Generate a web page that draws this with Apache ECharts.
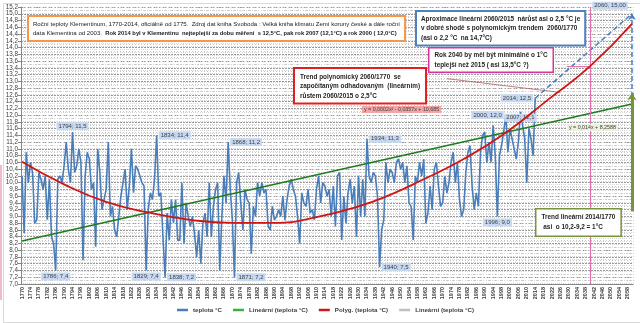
<!DOCTYPE html>
<html><head><meta charset="utf-8">
<script src="https://cdn.jsdelivr.net/npm/echarts@6/dist/echarts.min.js"></script>
<style>html,body{margin:0;padding:0;background:#fff}#c{width:640px;height:323px}</style>
</head><body><div id="c"></div>
<script>
// Annual mean temperature, Klementinum (Prague), 1770-2014, with trend lines to 2060
const firstYear = 1770;
const lastYear = 2060;
const years = [];
for (let y = firstYear; y <= lastYear; y++) years.push(String(y));

// teplota °C, one value per year 1770..2014
const temps = [
  10.2, 8.5, 10.9, 10.0, 10.6, 10.3, 8.8, 8.9, 10.3, 10.1,   // 1770s
  9.8, 10.2, 8.9, 10.1, 8.4, 8.2, 7.4, 10.1, 10.2, 10.0,     // 1780s
  10.5, 11.2, 10.4, 10.0, 11.5, 10.3, 10.5, 11.0, 10.6, 7.7, // 1790s
  10.2, 10.9, 10.7, 9.8, 10.0, 8.1, 11.0, 10.3, 9.2, 9.5,    // 1800s
  9.8, 11.2, 9.0, 9.3, 8.6, 8.4, 9.0, 9.6, 10.0, 10.4,       // 1810s
  9.2, 9.9, 11.0, 9.7, 10.5, 10.4, 10.2, 10.0, 9.9, 7.4,     // 1820s
  9.2, 9.7, 9.5, 10.1, 11.4, 9.6, 9.7, 8.4, 7.2, 9.1,        // 1830s
  8.3, 9.5, 8.8, 9.5, 8.3, 8.3, 10.0, 8.2, 9.4, 9.0,         // 1840s
  8.7, 9.0, 8.5, 7.8, 8.6, 7.6, 8.8, 9.1, 8.4, 10.0,         // 1850s
  8.4, 9.3, 9.8, 10.0, 7.4, 9.0, 10.2, 9.4, 11.2, 9.8,       // 1860s
  8.9, 7.2, 10.0, 10.3, 9.4, 8.6, 9.8, 9.5, 9.4, 7.9,        // 1870s
  9.3, 9.0, 10.0, 9.6, 10.0, 9.7, 9.8, 8.7, 8.6, 9.3,        // 1880s
  8.9, 9.0, 9.2, 9.0, 9.6, 8.9, 9.5, 9.9, 10.1, 9.8,         // 1890s
  9.6, 9.0, 8.2, 9.7, 9.4, 9.3, 9.8, 9.1, 9.2, 8.9,          // 1900s
  9.8, 10.2, 9.4, 10.0, 9.9, 9.6, 9.8, 9.0, 9.9, 8.7,        // 1910s
  10.2, 10.3, 8.3, 9.6, 8.8, 9.7, 10.1, 9.4, 9.9, 8.4,       // 1920s
  10.2, 9.0, 10.1, 9.0, 11.3, 10.2, 10.0, 10.3, 10.2, 9.6,   // 1930s
  7.5, 8.6, 8.9, 10.6, 10.0, 10.4, 10.3, 10.0, 10.6, 10.7,   // 1940s
  10.4, 10.6, 10.0, 10.5, 9.4, 9.3, 8.3, 10.2, 10.0, 10.6,   // 1950s
  10.2, 10.7, 8.8, 9.1, 9.9, 9.2, 10.4, 10.6, 9.9, 9.3,      // 1960s
  9.4, 10.2, 9.7, 10.0, 10.6, 10.9, 10.0, 10.6, 9.5, 9.0,    // 1970s
  9.2, 10.3, 10.9, 11.1, 9.9, 9.2, 9.7, 9.3, 10.9, 11.4,     // 1980s
  11.5, 10.6, 11.2, 10.6, 11.7, 10.8, 9.0, 10.8, 11.1, 11.5, // 1990s
  12.0, 10.9, 11.6, 11.3, 11.0, 10.7, 11.2, 12.1, 11.7, 11.3, // 2000s
  10.0, 11.6, 11.3, 10.8, 12.5                               // 2010-2014
];

// Lineární (teplota °C): straight trend, end points
const linearTrend = [['1770', 8.27], ['2060', 12.33]];
// Polyg. (teplota °C): polynomial trend, sampled points
const polyTrend = [
  ['1770', 10.62], ['1790', 9.95], ['1810', 9.43], ['1830', 9.12], ['1850', 8.9],
  ['1870', 8.81], ['1890', 8.81], ['1910', 8.98], ['1930', 9.3], ['1945', 9.64],
  ['1960', 10.07], ['1980', 10.7], ['2000', 11.48], ['2020', 12.45], ['2040', 13.44], ['2060', 14.7]
];
// linear extrapolation 2015 -> 2060
const forecast = [['2014', 12.5], ['2060', 15.0]];
// thin reference line
const greyLine = [['1972', 13.08], ['2026', 12.67]];
// expected 2040 value
const point2040 = ['2040', 13.44];
// rise of the linear trend, shown as an arrow at the right edge
const riseArrow = [['2060', 9.15], ['2060', 12.65]];

// years whose values are written next to the curve, with separator used
const labeledYears = [1786, 1794, 1829, 1834, 1838, 1868, 1871, 1934, 1940, 1996, 2000, 2007, 2014];
const labelSep = { 2000: ', ' };
const labelPlace = {
  1786: 'bottom', 1794: 'top', 1829: 'bottom', 1834: 'right', 1838: 'right', 1868: 'right',
  1871: 'right', 1934: 'right', 1940: 'right', 1996: 'bottom', 2000: 'left', 2007: 'bottom', 2014: 'left'
};

const fmt = (v, d = 1) => v.toFixed(d).replace('.', ',');
const tempOf = y => temps[y - firstYear];

const labelBox = {
  backgroundColor: '#c6d9f1', color: '#404040', fontSize: 6, padding: [1, 2],
  fontFamily: 'Liberation Sans'
};

const legendNames = {
  s1: 'teplota °C', s2: 'Lineární (teplota °C)', s3: 'Polyg. (teplota °C)', s4: 'Lineární (teplota °C)'
};

const chart = echarts.init(document.getElementById('c'), null, { renderer: 'canvas' });
const boxFont = 'bold 6.4px "Liberation Sans"';

chart.setOption({
  animation: false,
  backgroundColor: '#ffffff',
  grid: { left: 21, right: 7, top: 7, bottom: 39, containLabel: false },
  legend: {
    data: ['s1', 's2', 's3', 's4'],
    formatter: n => legendNames[n],
    left: 172, bottom: 5,
    icon: 'rect', itemWidth: 11, itemHeight: 2.5, itemGap: 11,
    textStyle: { fontSize: 6.2, fontWeight: 'bold', color: '#404040', fontFamily: 'Liberation Sans' }
  },
  xAxis: {
    type: 'category', data: years, boundaryGap: true,
    axisLine: { show: true, lineStyle: { color: '#868686' } },
    axisTick: { show: false },
    axisLabel: {
      interval: 3, rotate: 90, fontSize: 5.5, fontWeight: 'bold', color: '#404040', margin: 3,
      fontFamily: 'Liberation Sans'
    },
    splitLine: { show: true, interval: 0, lineStyle: { color: '#d4d4d4', width: 1, type: [1, 2] } }
  },
  yAxis: {
    type: 'value', min: 7, max: 15.2, interval: 0.2,
    axisLine: { show: true, lineStyle: { color: '#868686' } },
    axisTick: { show: true, length: 3, lineStyle: { color: '#868686' } },
    axisLabel: { fontSize: 6.3, color: '#404040', margin: 3, formatter: v => fmt(v), fontFamily: 'Liberation Sans' },
    splitLine: { show: true, lineStyle: { color: '#9a9a9a', width: 1, type: [2, 1] } },
    minorTick: { show: false, splitNumber: 2 },
    minorSplitLine: { show: true, lineStyle: { color: '#c4c4c4', type: [1, 2] } }
  },
  series: [
    {
      name: 's1', type: 'line', data: temps, showSymbol: false, symbol: 'none',
      lineStyle: { color: '#4a7ebb', width: 1.6 }, itemStyle: { color: '#4a7ebb' }, z: 3,
      markPoint: {
        symbol: 'rect', symbolSize: 0, silent: true,
        data: labeledYears.map(y => ({
          coord: [String(y), tempOf(y)],
          label: {
            show: true, position: labelPlace[y], distance: 2, ...labelBox,
            formatter: () => y + (labelSep[y] || '; ') + fmt(tempOf(y))
          }
        }))
      }
    },
    {
      name: 's2', type: 'line', data: linearTrend, showSymbol: false, symbol: 'none',
      lineStyle: { color: '#1e7b1e', width: 1.5 }, itemStyle: { color: '#3cb043' }, z: 4
    },
    {
      name: 's3', type: 'line', data: polyTrend, smooth: 0.5, showSymbol: false, symbol: 'none',
      lineStyle: { color: '#d01515', width: 1.8 }, itemStyle: { color: '#d01515' }, z: 5
    },
    {
      name: 's4', type: 'line', data: greyLine, showSymbol: false, symbol: 'none',
      lineStyle: { color: '#b06060', width: 0.8 }, itemStyle: { color: '#bfbfbf' }, z: 4
    },
    {
      name: 'forecast', type: 'line', data: forecast, showSymbol: false, symbol: 'none',
      lineStyle: { color: '#4a7ebb', width: 1.5, type: [5, 3] }, z: 4,
      markPoint: {
        symbol: 'rect', symbolSize: 0, silent: true,
        data: [{
          coord: forecast[1],
          label: { show: true, position: 'left', offset: [1, -8], ...labelBox,
            formatter: () => forecast[1][0] + ', ' + fmt(forecast[1][1], 2) }
        }]
      },
      markLine: {
        silent: true, symbol: ['none', 'arrow'], symbolSize: 6,
        label: { show: false },
        lineStyle: { color: '#4a7ebb', width: 1.5, type: [5, 3] },
        data: [[{ coord: ['2060', 12.3] }, { coord: ['2060', 15.0] }]]
      }
    },
    {
      name: 'marks2040', type: 'line', data: [point2040], showSymbol: true, symbol: 'circle', symbolSize: 6,
      itemStyle: { color: '#e0309a' }, lineStyle: { width: 0 }, z: 6,
      markLine: {
        silent: true, symbol: 'none', label: { show: false },
        lineStyle: { color: '#e070b0', width: 1, type: 'solid' },
        data: [
          { xAxis: '2040' },
          [{ coord: ['2029', 13.44] }, { coord: point2040 }]
        ]
      }
    },
    {
      name: 'arrow', type: 'line', data: [],
      markLine: {
        silent: true, symbol: ['none', 'arrow'], symbolSize: 7, label: { show: false },
        lineStyle: { color: '#77933c', width: 3, type: 'solid' },
        data: [[{ coord: riseArrow[0] }, { coord: riseArrow[1] }]]
      }
    }
  ],
  graphic: [
    { type: 'rect', left: 1, top: 1, shape: { width: 637, height: 319 },
      style: { fill: 'none', stroke: '#d9d9d9', lineWidth: 1 }, silent: true, z: 0 },
    { type: 'rect', left: 0, top: 165, shape: { width: 2, height: 135 },
      style: { fill: '#f4b6d0' }, silent: true },
    { type: 'text', left: 27, top: 15, z: 100,
      style: {
        text: '{n|Roční teploty Klementinum, 1770-2014, oficiálně od 1775.  Zdroj dat kniha Svoboda : Velká kniha klimatu Zemí koruny české a dále roční}\n{n|data Klementina od 2003.  }{b|Rok 2014 byl v Klementinu  nejteplejší za dobu měření  s 12,5°C, pak rok 2007 (12,1°C) a rok 2000 ( 12,0°C)}',
        backgroundColor: '#ffffff', borderColor: '#f79646', borderWidth: 2, padding: [3, 4, 2, 4],
        rich: {
          n: { fontSize: 6.05, fontFamily: 'Liberation Sans', fill: '#202020', lineHeight: 9 },
          b: { fontSize: 5.8, fontWeight: 'bold', fontFamily: 'Liberation Sans', fill: '#202020', lineHeight: 9 }
        }
      } },
    { type: 'text', left: 415, top: 10, z: 100,
      style: {
        text: 'Aproximace lineární 2060/2015  nárůst asi o 2,5 °C je\nv dobré shodě s polynomickým trendem  2060/1770\n(asi o 2,2 °C  na 14,7°C)',
        font: boxFont, fill: '#1f1f1f', lineHeight: 9.5,
        backgroundColor: '#ffffff', borderColor: '#4f81bd', borderWidth: 2, padding: [2, 4, 2, 4]
      } },
    { type: 'text', left: 293, top: 67, z: 100,
      style: {
        text: 'Trend polynomický 2060/1770  se\nzapočítaným odhadovaným  (lineárním)\nrůstem 2060/2015 o 2,5°C',
        font: boxFont, fill: '#1f1f1f', lineHeight: 9.5,
        backgroundColor: '#ffffff', borderColor: '#e02020', borderWidth: 2, padding: [3, 5, 2, 5]
      } },
    { type: 'text', left: 428, top: 47, z: 100,
      style: {
        text: 'Rok 2040 by měl být minimálně o 1°C\nteplejší než 2015 ( asi 13,5°C ?)',
        font: boxFont, fill: '#1f1f1f', lineHeight: 9.5,
        backgroundColor: '#ffffff', borderColor: '#d6359a', borderWidth: 1.5, padding: [2, 5, 2, 5]
      } },
    { type: 'text', left: 535, top: 208, z: 100,
      style: {
        text: 'Trend lineární 2014/1770\n asi  o 10,2-9,2 = 1°C',
        font: boxFont, fill: '#1f1f1f', lineHeight: 10,
        backgroundColor: '#ffffff', borderColor: '#77933c', borderWidth: 1.5, padding: [3, 5, 3, 5]
      } },
    { type: 'text', left: 362, top: 106, z: 100,
      style: {
        text: 'y = 0,0002x² - 0,0357x + 10,685',
        font: '5.3px "Liberation Sans"', fill: '#404040',
        backgroundColor: '#f2a5a5', padding: [1, 2]
      } },
    { type: 'text', left: 567, top: 124, z: 100,
      style: {
        text: 'y = 0,014x + 8,2588',
        font: '5.3px "Liberation Sans"', fill: '#404040',
        backgroundColor: '#ebf1de', padding: [1, 2]
      } }
  ]
});
</script>
</body></html>
